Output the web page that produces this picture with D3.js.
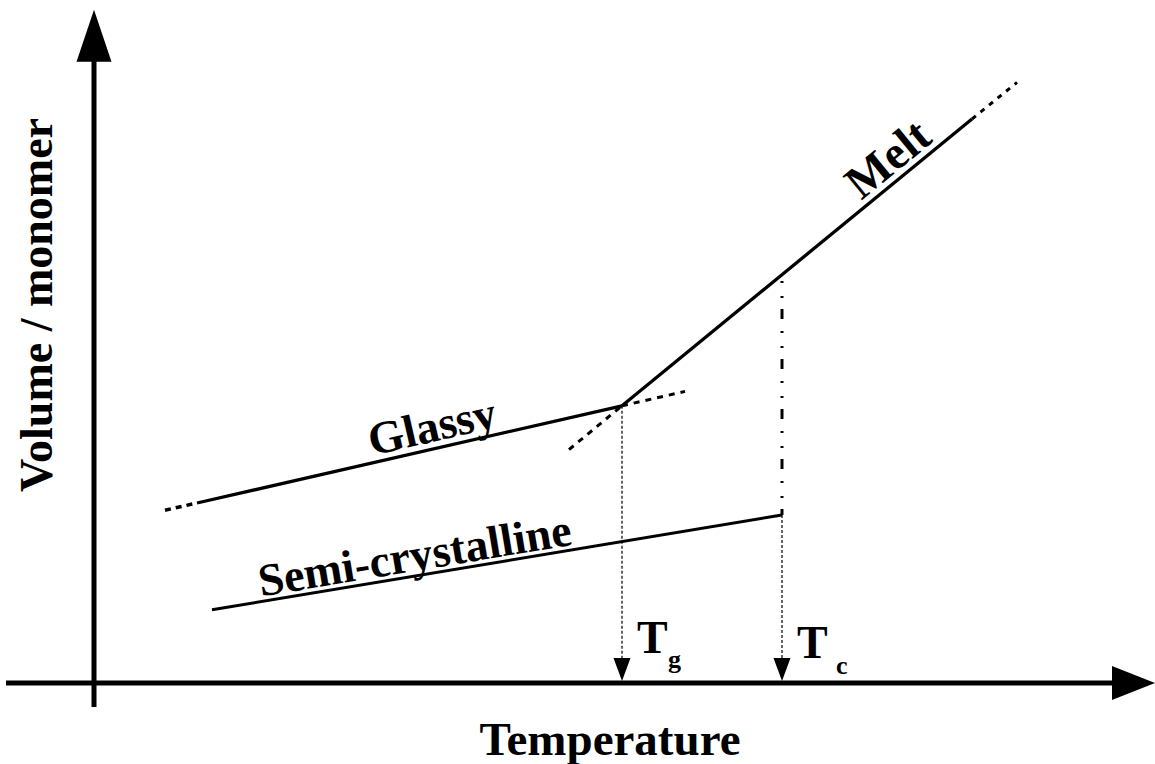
<!DOCTYPE html>
<html><head><meta charset="utf-8">
<script src="https://cdn.jsdelivr.net/npm/d3@7"></script>
<style>html,body{margin:0;padding:0;background:#fff;}svg{display:block;}</style>
</head><body><div id="chart"></div>
<script>
// ---- data (arbitrary units: temperature 0..100, volume 0..100) ----
const glassySolid = [[10.3, 30.0], [52.8, 46.2]];
const glassyDashLeft = [[7.1, 28.8], [10.3, 30.0]];
const glassyDashRight = [[52.8, 46.2], [59.1, 48.6]];
const meltSolid = [[52.8, 46.2], [87.8, 94.0]];
const meltDashLow = [[47.5, 38.9], [52.8, 46.2]];
const meltDashHigh = [[87.8, 94.0], [92.3, 100.1]];
const semiCrystalline = [[11.8, 12.2], [68.8, 28.0]];
const Tg = 52.8, Tc = 68.8;
const glassyAtTg = 46.2, meltAtTc = 68.0, semiAtTc = 28.0;
const curveLabels = ["Glassy", "Semi-crystalline", "Melt"];
const axisLabels = ["Temperature", "Volume / monomer"];

const W = 1155, H = 764;
const x = d3.scaleLinear().domain([0, 100]).range([94, 1094]);
const y = d3.scaleLinear().domain([0, 100]).range([683, 83]);

const svg = d3.select("#chart").append("svg").attr("width", W).attr("height", H);
const line = d3.line().x(d => x(d[0])).y(d => y(d[1]));
const font = "'Liberation Serif','Times New Roman',serif";

function path(pts, w, dash) {
  svg.append("path").attr("d", line(pts)).attr("fill", "none")
    .attr("stroke", "#000").attr("stroke-width", w)
    .attr("stroke-dasharray", dash || null);
}

// axes
svg.append("line").attr("x1", x(0)).attr("x2", x(0)).attr("y1", y(-4)).attr("y2", y(112.2) + 48)
  .attr("stroke", "#000").attr("stroke-width", 5);
svg.append("path").attr("d", d3.line()([[x(0), y(112.2)], [x(0) - 17.5, y(112.2) + 52], [x(0) + 17.5, y(112.2) + 52]]) + "Z").attr("fill", "#000");
svg.append("line").attr("x1", x(-8.8)).attr("x2", x(106.1) - 40).attr("y1", y(0)).attr("y2", y(0))
  .attr("stroke", "#000").attr("stroke-width", 5);
svg.append("path").attr("d", d3.line()([[x(106.1), y(0)], [x(106.1) - 43, y(0) - 17], [x(106.1) - 43, y(0) + 17]]) + "Z").attr("fill", "#000");

// curves
path(glassySolid, 3.3);
path(glassyDashLeft, 3.5, "6,5");
path(glassyDashRight, 3, "6,6");
path(meltSolid, 3.3);
path(meltDashLow, 3, "6,6");
path(meltDashHigh, 3, "5,6");
path(semiCrystalline, 3);

// Tc dash-dot line from melt down to semi-crystalline end
svg.append("line").attr("x1", x(Tc)).attr("x2", x(Tc)).attr("y1", y(meltAtTc) + 2).attr("y2", y(semiAtTc))
  .attr("stroke", "#000").attr("stroke-width", 3).attr("stroke-dasharray", "2,13,2,11,10,12")
  .attr("stroke-dashoffset", -4);

// thin dotted verticals with arrowheads
[[Tg, glassyAtTg], [Tc, semiAtTc]].forEach(([t, v]) => {
  svg.append("line").attr("x1", x(t)).attr("x2", x(t)).attr("y1", y(v)).attr("y2", y(0) - 22)
    .attr("stroke", "#000").attr("stroke-width", 1.2).attr("stroke-dasharray", "3,2");
  svg.append("path").attr("d", d3.line()([[x(t), y(0) - 2], [x(t) - 8.5, y(0) - 25], [x(t) + 8.5, y(0) - 25]]) + "Z").attr("fill", "#000");
});

// T labels
function tlabel(t, sub, bT, bS) {
  svg.append("text").attr("x", x(t) + 15).attr("y", bT).attr("font-family", font).attr("font-weight", "bold")
    .attr("font-size", 46).text("T");
  svg.append("text").attr("x", x(t) + 46 + (sub === "c" ? 8 : 0)).attr("y", bS).attr("font-family", font).attr("font-weight", "bold")
    .attr("font-size", 26).text(sub);
}
tlabel(Tg, "g", 653, 668);
tlabel(Tc, "c", 658, 674);

// curve labels along lines
function curveLabel(seg, tx, txt, dy, fs) {
  const p0 = seg[0], p1 = seg[1];
  const ty = p0[1] + (p1[1] - p0[1]) * (tx - p0[0]) / (p1[0] - p0[0]);
  const ang = Math.atan2(y(p1[1]) - y(p0[1]), x(p1[0]) - x(p0[0])) * 180 / Math.PI;
  svg.append("text").attr("transform", `translate(${x(tx)},${y(ty)}) rotate(${ang})`)
    .attr("y", dy).attr("text-anchor", "middle").attr("font-family", font).attr("font-weight", "bold")
    .attr("font-size", fs).text(txt);
}
curveLabel(glassySolid, 34.3, curveLabels[0], -7, 46);
curveLabel(semiCrystalline, 32.4, curveLabels[1], -5, 46);
curveLabel(meltSolid, 80.8, curveLabels[2], -7, 47);

// axis titles
svg.append("text").attr("x", 610).attr("y", 755).attr("text-anchor", "middle").attr("font-family", font)
  .attr("font-weight", "bold").attr("font-size", 47).text(axisLabels[0]);
svg.append("text").attr("transform", "translate(52,305) rotate(-90)").attr("text-anchor", "middle").attr("font-family", font)
  .attr("font-weight", "bold").attr("font-size", 46).text(axisLabels[1]);
</script></body></html>
